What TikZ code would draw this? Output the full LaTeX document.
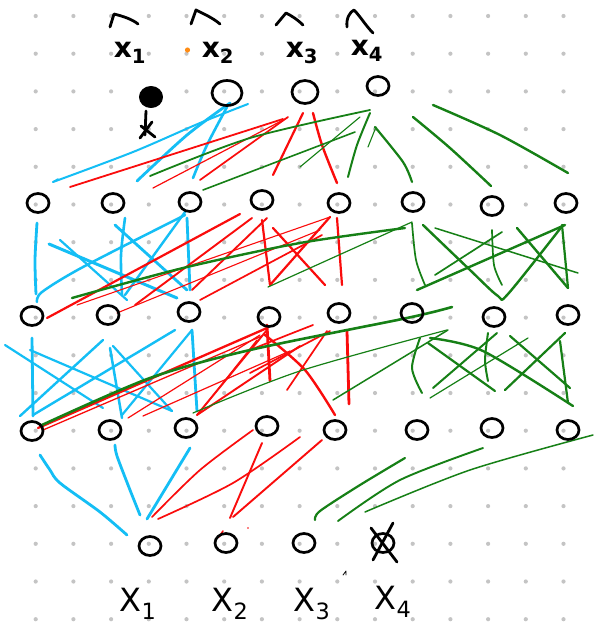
\documentclass[tikz,border=0pt]{standalone}
\usepackage{fontspec}
\setsansfont{DejaVu Sans}
\usetikzlibrary{shapes.geometric}
\definecolor{skyb}{RGB}{20,190,245}
\definecolor{redc}{RGB}{250,12,12}
\definecolor{grc}{RGB}{22,128,22}
\definecolor{dotc}{RGB}{196,196,196}
\definecolor{orng}{RGB}{255,140,20}
\begin{document}
\begin{tikzpicture}[x=1pt,y=-1pt,line cap=round,line join=round,
  nd/.style={ellipse,draw=black,line width=2.7pt,minimum width=22pt,minimum height=19pt,inner sep=0pt},
  ndbig/.style={nd,minimum width=30pt,minimum height=25pt},
  bl/.style={draw=skyb,line width=#1},bl/.default=2.4pt,
  rd/.style={draw=redc,line width=#1},rd/.default=1.8pt,
  gr/.style={draw=grc,line width=#1},gr/.default=2pt,
  ink/.style={draw=black,line width=2.8pt},
  toplab/.style={font=\sffamily\bfseries\fontsize{28}{28}\selectfont,inner sep=0pt},
  botlab/.style={font=\sffamily\fontsize{32}{32}\selectfont,inner sep=0pt}]
\useasboundingbox (0,0) rectangle (594,630);
\fill[white] (0,0) rectangle (594,630);
% dot grid
\foreach \i in {1,...,15}{\foreach \j in {0,...,16}{\fill[dotc] (-2+37.7*\i,16+37.7*\j) circle (2.1pt);}}

% ---- band output -> h1
\draw[bl=2pt] plot[smooth] coordinates {(248,104) (200,123) (133,152) (53,182)};
\draw[bl=1.6pt] (53,182) -- (58,179);
\draw[bl=2.8pt] plot[smooth] coordinates {(230,103) (187,135) (137,181)};
\draw[bl=2.6pt] plot[smooth] coordinates {(227,107) (207,145) (193,178)};
\draw[rd=1.8pt] (70,187) -- (283,119);
\draw[rd=1.2pt] (153,188) -- (287,118);
\draw[rd=1.7pt] (200,180) -- (288,117);
\draw[rd=2.2pt] (273,175) -- (303,113);
\draw[rd=2.4pt] plot[smooth] coordinates {(313,113) (322,145) (337,183)};
\draw[gr=1.8pt] plot[smooth] coordinates {(150,176) (250,138) (370,110)};
\draw[gr=1.6pt] (203,190) -- (355,132);
\draw[gr=1.1pt] (300,167) -- (360,117);
\draw[gr=2pt] plot[smooth] coordinates {(348,177) (357,145) (370,113)};
\draw[gr=2.2pt] plot[smooth] coordinates {(375,127) (403,162) (412,182)};
\draw[gr=1.1pt] (368,147) -- (376,127);
\draw[gr=2.4pt] plot[smooth] coordinates {(413,117) (450,148) (491,186)};
\draw[gr=2.4pt] plot[smooth] coordinates {(433,105) (500,135) (568,173)};

% ---- band h1 -> h2
\draw[bl=2.8pt] plot[smooth] coordinates {(37,223) (35,260) (36,294)};
\draw[bl=2.5pt] plot[smooth] coordinates {(37,302) (42,292) (83,267) (185,215)};
\draw[bl=3pt] (49,244) -- (177,298);
\draw[bl=2.2pt] (60,240) -- (127,300);
\draw[bl=2.6pt] plot[smooth] coordinates {(125,218) (121,255) (122,295)};
\draw[bl=2.8pt] (115,225) -- (187,290);
\draw[bl=2.8pt] (187,218) -- (190,290);
\draw[bl=2.4pt] (185,212) -- (125,295);
\draw[rd=2.2pt] (240,214) -- (47,318);
\draw[rd=1.9pt] (252,218) -- (135,305);
\draw[rd=1.9pt] (267,218) -- (192,290);
\draw[rd=1.7pt] (200,300) -- (322,235);
\draw[rd=1.1pt] (77,305) -- (330,217);
\draw[rd=1.1pt] (117,313) -- (320,230);
\draw[rd=2.2pt] (262,220) -- (270,285) -- (330,217);
\draw[rd=2.2pt] (273,228) -- (325,285);
\draw[rd=2.2pt] (337,218) -- (342,285);
\draw[gr=2.4pt] plot[smooth] coordinates {(72,298) (183,268) (300,243) (405,228)};
\draw[gr=1.2pt] (268,287) -- (412,222);
\draw[gr=1.7pt] plot[smooth] coordinates {(412,223) (416,260) (425,285)};
\draw[gr=2.4pt] plot[smooth] coordinates {(423,225) (470,270) (498,296) (508,294) (563,225)};
\draw[gr=1.5pt] (435,228) -- (578,273);
\draw[gr=1.7pt] (502,232) -- (435,275);
\draw[gr=1.7pt] plot[smooth] coordinates {(492,230) (494,265) (502,285)};
\draw[gr=2.4pt] (517,228) -- (568,288);
\draw[gr=2.4pt] (417,290) -- (565,225);
\draw[gr=2.2pt] (562,225) -- (568,288);

% ---- band h2 -> h3
\draw[bl=2.8pt] (32,338) -- (33,416);
\draw[bl=2.2pt] (5,345) -- (103,408);
\draw[bl=2.2pt] (30,350) -- (172,411);
\draw[bl=2.4pt] (20,416) -- (103,340);
\draw[bl=2.4pt] (33,415) -- (175,330);
\draw[bl=2.5pt] (110,348) -- (122,418);
\draw[bl=2.2pt] (113,346) -- (172,411);
\draw[bl=2.2pt] (122,415) -- (192,330);
\draw[bl=2.8pt] (192,330) -- (197,411);
\draw[rd=2.3pt] (38,428) -- (267,328);
\draw[rd=1.3pt] (43,430) -- (262,336);
\draw[rd=1.2pt] (128,418) -- (260,335);
\draw[rd=1.2pt] (143,416) -- (290,351);
\draw[rd=1.9pt] (197,415) -- (267,330);
\draw[rd=1.2pt] (203,408) -- (257,340);
\draw[rd=1.9pt] (197,415) -- (300,346);
\draw[rd=2.8pt] (267,325) -- (270,381);
\draw[rd=2.4pt] plot[smooth] coordinates {(265,335) (305,370) (335,415)};
\draw[rd=1.7pt] (327,331) -- (287,390);
\draw[rd=2.8pt] (347,331) -- (349,404);
\draw[rd=1.7pt] plot[smooth] coordinates {(250,350) (285,336) (313,325)};
\draw[rd=1.7pt] (250,373) -- (330,331);
\draw[gr=2.6pt] plot[smooth] coordinates {(42,425) (150,378) (250,350) (407,318) (452,307)};
\draw[gr=1.2pt] plot[smooth] coordinates {(193,413) (300,371) (447,330)};
\draw[gr=1.5pt] (333,400) -- (448,330);
\draw[gr=2pt] plot[smooth] coordinates {(420,338) (412,368) (422,393)};
\draw[gr=2.2pt] (428,343) -- (495,391);
\draw[gr=2.4pt] plot[smooth] coordinates {(430,338) (483,351) (573,406)};
\draw[gr=2pt] (433,388) -- (497,333);
\draw[gr=2pt] plot[smooth] coordinates {(488,333) (485,360) (488,381)};
\draw[gr=1.2pt] (430,398) -- (528,338);
\draw[gr=2.2pt] (510,336) -- (570,388);
\draw[gr=2.2pt] (505,390) -- (565,333);
\draw[gr=2.2pt] (560,341) -- (568,403);

% ---- band h3 -> input
\draw[bl=2.8pt] plot[smooth] coordinates {(40,455) (50,470) (60,483) (100,512) (127,535)};
\draw[bl=2.8pt] plot[smooth] coordinates {(115,445) (117,456) (130,490) (140,515)};
\draw[bl=2.8pt] (190,448) -- (147,519);
\draw[rd=1.7pt] plot[smooth] coordinates {(152,517) (200,470) (253,430)};
\draw[rd=1.7pt] plot[smooth] coordinates {(158,519) (233,483) (300,437)};
\draw[rd=1.9pt] (230,518) -- (262,443);
\draw[rd=1.9pt] (233,517) -- (322,440);
\draw[rd=1.6pt] (219,537) -- (223,531);
\fill[redc] (248,528) circle (0.8pt);
\draw[gr=2.2pt] plot[smooth] coordinates {(315,520) (320,511) (360,485) (405,458)};
\draw[gr=1.9pt] plot[smooth] coordinates {(338,521) (400,480) (483,448)};
\draw[gr=1.5pt] plot[smooth] coordinates {(365,512) (470,470) (593,435)};

% ---- nodes
\node[ellipse,fill=black,draw=black,line width=1pt,minimum width=23pt,minimum height=21pt] (o1) at (151,97) {};
\node[ndbig] (o2) at (227,93) {};
\node[nd,minimum width=26pt,minimum height=23pt] (o3) at (305,92) {};
\node[nd] (o4) at (378,86) {};
\foreach \n/\x/\y in {1/38/203,2/113/203,3/190/202,4/262/200,5/339/203,6/413/202,7/492/206,8/566/203}
  {\node[nd] (a\n) at (\x,\y) {};}
\foreach \n/\x/\y in {1/32/316,2/108/315,3/189/312,4/269/317,5/339/313,6/412/313,7/494/317,8/568/315}
  {\node[nd] (b\n) at (\x,\y) {};}
\foreach \n/\x/\y in {1/32/431,2/110/430,3/186/428,4/267/426,5/335/430,6/417/430,7/492/428,8/568/430}
  {\node[nd] (c\n) at (\x,\y) {};}
\foreach \n/\x/\y in {1/150/546,2/226/543,3/304/543,4/383/543}
  {\node[nd] (i\n) at (\x,\y) {};}
% cross on x4 input
\draw[ink] (371,528) -- (397,562);
\draw[ink] (393,523) -- (373,560);

% glyph under filled node
\draw[ink] (146,111) -- (145,135);
\draw[ink] (140,138) -- (152,122);
\draw[ink] (141,126) -- (155,137);

% hats
\draw[ink] (110,27) -- (114,14) .. controls (122,16) and (132,19) .. (138,24);
\draw[ink] (191,24) -- (196,10) .. controls (204,14) and (213,18) .. (220,24);
\draw[ink] (276,25) -- (286,13) .. controls (292,16) and (298,20) .. (303,25);
\draw[ink] (347,27) .. controls (346,18) and (350,12) .. (354,10) .. controls (360,16) and (366,26) .. (373,33);

% labels
\node[toplab] (t1) at (130,53) {x\textsubscript{1}};
\node[toplab] (t2) at (218,53) {x\textsubscript{2}};
\node[toplab] (t3) at (302,53) {x\textsubscript{3}};
\node[toplab] (t4) at (367,51) {x\textsubscript{4}};
\fill[orng] (187.5,50) circle (2.6pt);
\node[botlab] (x1) at (138,604) {X\textsubscript{1}};
\node[botlab] (x2) at (230,604) {X\textsubscript{2}};
\node[botlab] (x3) at (312,604) {X\textsubscript{3}};
\node[botlab] (x4) at (393,602) {X\textsubscript{4}};
\draw[black,line width=0.8pt] (343,575) -- (346,571) -- (346,575);
\end{tikzpicture}
\end{document}
